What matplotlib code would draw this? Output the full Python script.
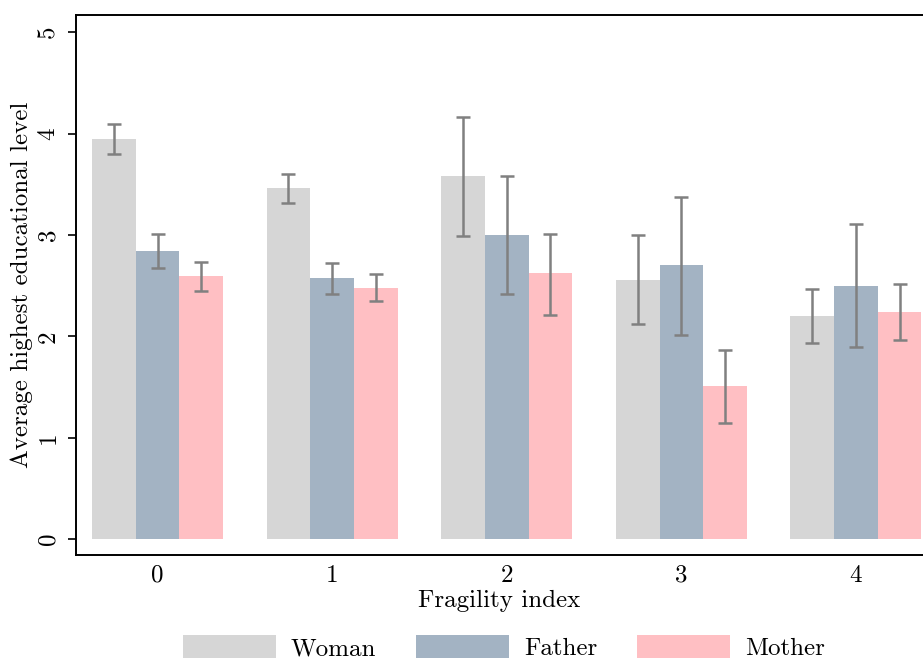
import numpy as np
import matplotlib
matplotlib.use("Agg")
import matplotlib.pyplot as plt
from matplotlib.patches import Patch

plt.rcParams['font.family'] = ['cmr10', 'DejaVu Serif']
plt.rcParams['axes.formatter.use_mathtext'] = True

# Mean education by fragility index, with confidence bounds
fragility = [0, 1, 2, 3, 4]
series = ["Woman", "Father", "Mother"]
colors = ["#d6d6d6", "#a3b3c3", "#ffbfc3"]

woman = [3.95, 3.46, 3.58, 2.56, 2.20]
woman_lo = [3.80, 3.32, 2.99, 2.12, 1.93]
woman_hi = [4.09, 3.60, 4.16, 3.00, 2.47]

father = [2.84, 2.58, 3.00, 2.70, 2.50]
father_lo = [2.67, 2.42, 2.42, 2.01, 1.89]
father_hi = [3.01, 2.72, 3.58, 3.37, 3.11]

mother = [2.59, 2.48, 2.62, 1.51, 2.24]
mother_lo = [2.45, 2.35, 2.21, 1.14, 1.96]
mother_hi = [2.73, 2.61, 3.01, 1.86, 2.52]

means = [woman, father, mother]
lows = [woman_lo, father_lo, mother_lo]
highs = [woman_hi, father_hi, mother_hi]

FS = 18
W, H = 923, 659
fig = plt.figure(figsize=(W / 100, H / 100), dpi=100)
ax = fig.add_axes([76 / W, (H - 555) / H, (W - 76) / W, 540 / H])

x = np.arange(len(fragility))
width = 0.25
for i, (name, col) in enumerate(zip(series, colors)):
    pos = x + (i - 1) * width
    m = np.array(means[i])
    err = [m - np.array(lows[i]), np.array(highs[i]) - m]
    ax.bar(pos, m, width=width, color=col, edgecolor='none', label=name)
    ax.errorbar(pos, m, yerr=err, fmt='none', ecolor='#808080',
                elinewidth=1.8, capsize=4.7, capthick=1.8)

ax.set_xlim(-0.467, 4.384)
ax.set_ylim(-0.158, 5.17)
ax.set_xticks(x)
ax.set_xticklabels([str(v) for v in fragility])
ax.set_yticks(range(6))
ax.set_yticklabels([str(v) for v in range(6)], rotation=90, va='center')

ax.spines['right'].set_visible(False)
for s in ['left', 'bottom', 'top']:
    ax.spines[s].set_linewidth(1.4)
ax.tick_params(axis='y', length=6, width=1.2, pad=6, labelsize=FS)
ax.tick_params(axis='x', length=0, pad=7, labelsize=FS)

ax.set_xlabel("Fragility index", fontsize=FS, labelpad=2)
ax.set_ylabel("Average highest educational level", fontsize=FS, labelpad=3)

handles = [Patch(facecolor=c, edgecolor='none') for c in colors]
fig.legend(handles, series, loc='lower center', bbox_to_anchor=(0.546, -0.036),
           ncol=3, frameon=False, fontsize=FS, handlelength=3.72,
           handleheight=1.0, handletextpad=0.6, columnspacing=1.6)

fig.savefig("out.png", dpi=100)
